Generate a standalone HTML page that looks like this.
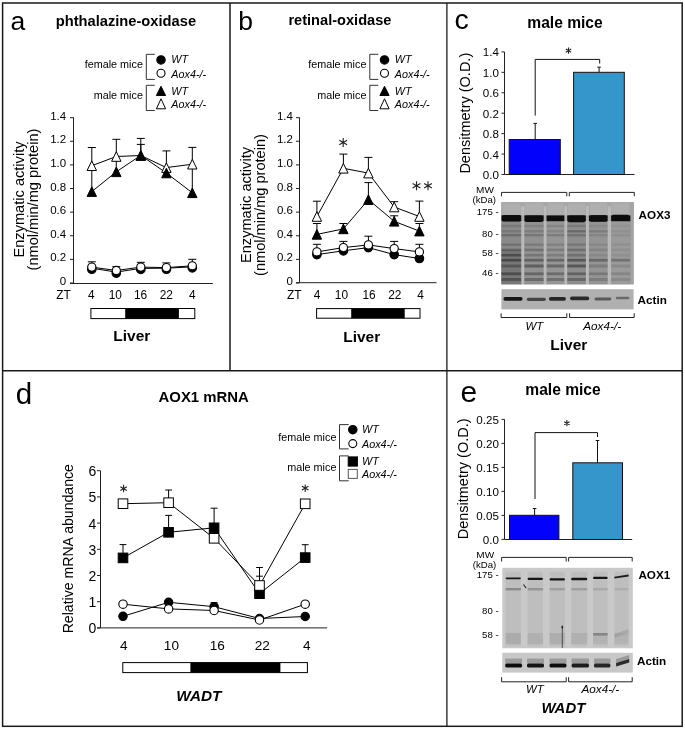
<!DOCTYPE html>
<html><head><meta charset="utf-8"><style>
html,body{margin:0;padding:0;background:#fff;}
svg{display:block;will-change:transform;font-family:"Liberation Sans", sans-serif;}
</style></head><body>
<svg width="685" height="729" viewBox="0 0 685 729">
<defs><filter id="gblur" x="-5%" y="-5%" width="110%" height="110%"><feGaussianBlur stdDeviation="0.75"/></filter></defs>
<rect width="685" height="729" fill="#fff"/>
<rect x="2.6" y="3" width="679.6" height="723.3" fill="none" stroke="#1a1a1a" stroke-width="1.5"/>
<line x1="230" y1="3" x2="230" y2="370.5" stroke="#1a1a1a" stroke-width="1.5"/>
<line x1="446.9" y1="3" x2="446.9" y2="726.3" stroke="#1a1a1a" stroke-width="1.3"/>
<line x1="2.6" y1="370.7" x2="682.2" y2="370.7" stroke="#1a1a1a" stroke-width="1.5"/>
<text x="10.6" y="30.3" font-size="26.5" text-anchor="start" fill="#000" >a</text>
<text x="55.7" y="25.6" font-size="14.7" font-weight="bold" text-anchor="start" fill="#000" >phthalazine-oxidase</text>
<text x="142.9" y="68.4" font-size="10.8" text-anchor="end" fill="#000" >female mice</text>
<text x="142.9" y="98.8" font-size="10.8" text-anchor="end" fill="#000" >male mice</text>
<path d="M154.8,54.3 H146.3 V79.4 H154.8" stroke="#333" stroke-width="1" fill="none" />
<path d="M154.8,85.3 H146.3 V110.5 H154.8" stroke="#333" stroke-width="1" fill="none" />
<circle cx="161" cy="59.9" r="4.2" stroke="#000" stroke-width="1.1" fill="#000"/>
<circle cx="161" cy="73.3" r="4.0" stroke="#000" stroke-width="1.1" fill="#fff"/>
<path d="M161,86.30000000000001 L165.6,95.5 L156.4,95.5 Z" stroke="#000" stroke-width="1" fill="#000" stroke-linejoin="miter"/>
<path d="M161,98.8 L165.6,108.8 L156.4,108.8 Z" stroke="#000" stroke-width="1" fill="#fff" stroke-linejoin="miter"/>
<text x="171.3" y="63.3" font-size="10.8" font-style="italic" text-anchor="start" fill="#000" >WT</text>
<text x="171.3" y="77.6" font-size="10.8" font-style="italic" text-anchor="start" fill="#000" >Aox4-/-</text>
<text x="171.3" y="94.8" font-size="10.8" font-style="italic" text-anchor="start" fill="#000" >WT</text>
<text x="171.3" y="108.2" font-size="10.8" font-style="italic" text-anchor="start" fill="#000" >Aox4-/-</text>
<line x1="73.5" y1="117.4" x2="73.5" y2="283.5" stroke="#222" stroke-width="1"/>
<line x1="70.0" y1="283.5" x2="212.8" y2="283.5" stroke="#222" stroke-width="1"/>
<line x1="70.0" y1="283.0" x2="73.5" y2="283.0" stroke="#222" stroke-width="1"/>
<text x="66.2" y="285.1" font-size="11.5" text-anchor="end" fill="#000" >0</text>
<line x1="70.0" y1="259.38" x2="73.5" y2="259.38" stroke="#222" stroke-width="1"/>
<text x="66.2" y="261.48" font-size="11.5" text-anchor="end" fill="#000" >0.2</text>
<line x1="70.0" y1="235.76" x2="73.5" y2="235.76" stroke="#222" stroke-width="1"/>
<text x="66.2" y="237.85999999999999" font-size="11.5" text-anchor="end" fill="#000" >0.4</text>
<line x1="70.0" y1="212.14" x2="73.5" y2="212.14" stroke="#222" stroke-width="1"/>
<text x="66.2" y="214.23999999999998" font-size="11.5" text-anchor="end" fill="#000" >0.6</text>
<line x1="70.0" y1="188.51999999999998" x2="73.5" y2="188.51999999999998" stroke="#222" stroke-width="1"/>
<text x="66.2" y="190.61999999999998" font-size="11.5" text-anchor="end" fill="#000" >0.8</text>
<line x1="70.0" y1="164.89999999999998" x2="73.5" y2="164.89999999999998" stroke="#222" stroke-width="1"/>
<text x="66.2" y="166.99999999999997" font-size="11.5" text-anchor="end" fill="#000" >1.0</text>
<line x1="70.0" y1="141.28" x2="73.5" y2="141.28" stroke="#222" stroke-width="1"/>
<text x="66.2" y="143.38" font-size="11.5" text-anchor="end" fill="#000" >1.2</text>
<line x1="70.0" y1="117.66" x2="73.5" y2="117.66" stroke="#222" stroke-width="1"/>
<text x="66.2" y="119.75999999999999" font-size="11.5" text-anchor="end" fill="#000" >1.4</text>
<text x="56.3" y="299.0" font-size="11.9" text-anchor="start" fill="#000" >ZT</text>
<text x="91.3" y="299.0" font-size="11.9" text-anchor="middle" fill="#000" >4</text>
<text x="115.3" y="299.0" font-size="11.9" text-anchor="middle" fill="#000" >10</text>
<text x="140.6" y="299.0" font-size="11.9" text-anchor="middle" fill="#000" >16</text>
<text x="166.3" y="299.0" font-size="11.9" text-anchor="middle" fill="#000" >22</text>
<text x="192.3" y="299.0" font-size="11.9" text-anchor="middle" fill="#000" >4</text>
<rect x="90.9" y="308.5" width="103.9" height="10.100000000000023" fill="#fff" stroke="#000" stroke-width="1"/>
<rect x="125.2" y="308.5" width="53.7" height="10.100000000000023" fill="#000"/>
<text x="113.3" y="340.5" font-size="15.5" font-weight="bold" text-anchor="start" fill="#000" >Liver</text>
<text transform="translate(24.3,199.5) rotate(-90)" x="0" y="0" font-size="14.6" text-anchor="middle">Enzymatic activity</text>
<text transform="translate(38.0,199.5) rotate(-90)" x="0" y="0" font-size="14.6" text-anchor="middle">(nmol/min/mg protein)</text>
<line x1="91.8" y1="261.8" x2="91.8" y2="267.1" stroke="#000" stroke-width="1"/>
<line x1="87.8" y1="261.8" x2="95.8" y2="261.8" stroke="#000" stroke-width="1"/>
<line x1="116.3" y1="266.7" x2="116.3" y2="270.5" stroke="#000" stroke-width="1"/>
<line x1="112.3" y1="266.7" x2="120.3" y2="266.7" stroke="#000" stroke-width="1"/>
<line x1="140.8" y1="262.3" x2="140.8" y2="267.1" stroke="#000" stroke-width="1"/>
<line x1="136.8" y1="262.3" x2="144.8" y2="262.3" stroke="#000" stroke-width="1"/>
<line x1="166.4" y1="262.9" x2="166.4" y2="267.6" stroke="#000" stroke-width="1"/>
<line x1="162.4" y1="262.9" x2="170.4" y2="262.9" stroke="#000" stroke-width="1"/>
<line x1="192.3" y1="259.3" x2="192.3" y2="265.8" stroke="#000" stroke-width="1"/>
<line x1="188.3" y1="259.3" x2="196.3" y2="259.3" stroke="#000" stroke-width="1"/>
<path d="M91.8,268.2 L116.3,272.1 L140.8,268.4 L166.4,268.2 L192.3,266.8" stroke="#000" stroke-width="1" fill="none" />
<path d="M91.8,267.1 L116.3,270.5 L140.8,267.1 L166.4,267.6 L192.3,265.8" stroke="#000" stroke-width="1" fill="none" />
<circle cx="91.8" cy="269.2" r="4.3" stroke="#000" stroke-width="1.1" fill="#000"/>
<circle cx="116.3" cy="273.1" r="4.3" stroke="#000" stroke-width="1.1" fill="#000"/>
<circle cx="140.8" cy="269.4" r="4.3" stroke="#000" stroke-width="1.1" fill="#000"/>
<circle cx="166.4" cy="269.2" r="4.3" stroke="#000" stroke-width="1.1" fill="#000"/>
<circle cx="192.3" cy="267.8" r="4.3" stroke="#000" stroke-width="1.1" fill="#000"/>
<circle cx="91.8" cy="267.1" r="4.1" stroke="#000" stroke-width="1.1" fill="#fff"/>
<circle cx="116.3" cy="270.5" r="4.1" stroke="#000" stroke-width="1.1" fill="#fff"/>
<circle cx="140.8" cy="267.1" r="4.1" stroke="#000" stroke-width="1.1" fill="#fff"/>
<circle cx="166.4" cy="267.6" r="4.1" stroke="#000" stroke-width="1.1" fill="#fff"/>
<circle cx="192.3" cy="265.8" r="4.1" stroke="#000" stroke-width="1.1" fill="#fff"/>
<line x1="91.8" y1="147.5" x2="91.8" y2="192" stroke="#000" stroke-width="1"/>
<line x1="87.8" y1="147.5" x2="95.8" y2="147.5" stroke="#000" stroke-width="1"/>
<line x1="116.3" y1="139.3" x2="116.3" y2="172" stroke="#000" stroke-width="1"/>
<line x1="112.3" y1="139.3" x2="120.3" y2="139.3" stroke="#000" stroke-width="1"/>
<line x1="140.8" y1="138.4" x2="140.8" y2="156" stroke="#000" stroke-width="1"/>
<line x1="136.8" y1="138.4" x2="144.8" y2="138.4" stroke="#000" stroke-width="1"/>
<line x1="140.8" y1="144.4" x2="140.8" y2="156" stroke="#000" stroke-width="1"/>
<line x1="136.8" y1="144.4" x2="144.8" y2="144.4" stroke="#000" stroke-width="1"/>
<line x1="166.4" y1="150.9" x2="166.4" y2="173" stroke="#000" stroke-width="1"/>
<line x1="162.4" y1="150.9" x2="170.4" y2="150.9" stroke="#000" stroke-width="1"/>
<line x1="192.3" y1="147.4" x2="192.3" y2="193" stroke="#000" stroke-width="1"/>
<line x1="188.3" y1="147.4" x2="196.3" y2="147.4" stroke="#000" stroke-width="1"/>
<path d="M91.8,191.6 L116.3,171.8 L140.8,155.4 L166.4,173.0 L192.3,192.8" stroke="#000" stroke-width="1" fill="none" />
<path d="M91.8,165.7 L116.3,156.5 L140.8,155.5 L166.4,167.6 L192.3,164.2" stroke="#000" stroke-width="1" fill="none" />
<path d="M91.8,160.89999999999998 L96.5,170.5 L87.1,170.5 Z" stroke="#000" stroke-width="1" fill="#fff" stroke-linejoin="miter"/>
<path d="M116.3,151.7 L121.0,161.3 L111.6,161.3 Z" stroke="#000" stroke-width="1" fill="#fff" stroke-linejoin="miter"/>
<path d="M140.8,150.7 L145.5,160.3 L136.10000000000002,160.3 Z" stroke="#000" stroke-width="1" fill="#fff" stroke-linejoin="miter"/>
<path d="M166.4,162.79999999999998 L171.1,172.4 L161.70000000000002,172.4 Z" stroke="#000" stroke-width="1" fill="#fff" stroke-linejoin="miter"/>
<path d="M192.3,159.39999999999998 L197.0,169.0 L187.60000000000002,169.0 Z" stroke="#000" stroke-width="1" fill="#fff" stroke-linejoin="miter"/>
<path d="M91.8,186.79999999999998 L96.5,196.4 L87.1,196.4 Z" stroke="#000" stroke-width="1" fill="#000" stroke-linejoin="miter"/>
<path d="M116.3,167.0 L121.0,176.60000000000002 L111.6,176.60000000000002 Z" stroke="#000" stroke-width="1" fill="#000" stroke-linejoin="miter"/>
<path d="M140.8,150.6 L145.5,160.20000000000002 L136.10000000000002,160.20000000000002 Z" stroke="#000" stroke-width="1" fill="#000" stroke-linejoin="miter"/>
<path d="M166.4,168.2 L171.1,177.8 L161.70000000000002,177.8 Z" stroke="#000" stroke-width="1" fill="#000" stroke-linejoin="miter"/>
<path d="M192.3,188.0 L197.0,197.60000000000002 L187.60000000000002,197.60000000000002 Z" stroke="#000" stroke-width="1" fill="#000" stroke-linejoin="miter"/>
<text x="238.3" y="29.5" font-size="26.5" text-anchor="start" fill="#000" >b</text>
<text x="288.4" y="25.4" font-size="14.6" font-weight="bold" text-anchor="start" fill="#000" >retinal-oxidase</text>
<text x="366.4" y="68.4" font-size="10.8" text-anchor="end" fill="#000" >female mice</text>
<text x="366.4" y="98.8" font-size="10.8" text-anchor="end" fill="#000" >male mice</text>
<path d="M378.3,54.3 H369.8 V79.4 H378.3" stroke="#333" stroke-width="1" fill="none" />
<path d="M378.3,85.3 H369.8 V110.5 H378.3" stroke="#333" stroke-width="1" fill="none" />
<circle cx="384.5" cy="59.9" r="4.2" stroke="#000" stroke-width="1.1" fill="#000"/>
<circle cx="384.5" cy="73.3" r="4.0" stroke="#000" stroke-width="1.1" fill="#fff"/>
<path d="M384.5,86.30000000000001 L389.1,95.5 L379.9,95.5 Z" stroke="#000" stroke-width="1" fill="#000" stroke-linejoin="miter"/>
<path d="M384.5,98.8 L389.1,108.8 L379.9,108.8 Z" stroke="#000" stroke-width="1" fill="#fff" stroke-linejoin="miter"/>
<text x="394.8" y="63.3" font-size="10.8" font-style="italic" text-anchor="start" fill="#000" >WT</text>
<text x="394.8" y="77.6" font-size="10.8" font-style="italic" text-anchor="start" fill="#000" >Aox4-/-</text>
<text x="394.8" y="94.8" font-size="10.8" font-style="italic" text-anchor="start" fill="#000" >WT</text>
<text x="394.8" y="108.2" font-size="10.8" font-style="italic" text-anchor="start" fill="#000" >Aox4-/-</text>
<line x1="299.5" y1="117.4" x2="299.5" y2="282.7" stroke="#222" stroke-width="1"/>
<line x1="296.0" y1="282.7" x2="436.5" y2="282.7" stroke="#222" stroke-width="1"/>
<line x1="296.0" y1="283.0" x2="299.5" y2="283.0" stroke="#222" stroke-width="1"/>
<text x="292.9" y="285.1" font-size="11.5" text-anchor="end" fill="#000" >0</text>
<line x1="296.0" y1="259.38" x2="299.5" y2="259.38" stroke="#222" stroke-width="1"/>
<text x="292.9" y="261.48" font-size="11.5" text-anchor="end" fill="#000" >0.2</text>
<line x1="296.0" y1="235.76" x2="299.5" y2="235.76" stroke="#222" stroke-width="1"/>
<text x="292.9" y="237.85999999999999" font-size="11.5" text-anchor="end" fill="#000" >0.4</text>
<line x1="296.0" y1="212.14" x2="299.5" y2="212.14" stroke="#222" stroke-width="1"/>
<text x="292.9" y="214.23999999999998" font-size="11.5" text-anchor="end" fill="#000" >0.6</text>
<line x1="296.0" y1="188.51999999999998" x2="299.5" y2="188.51999999999998" stroke="#222" stroke-width="1"/>
<text x="292.9" y="190.61999999999998" font-size="11.5" text-anchor="end" fill="#000" >0.8</text>
<line x1="296.0" y1="164.89999999999998" x2="299.5" y2="164.89999999999998" stroke="#222" stroke-width="1"/>
<text x="292.9" y="166.99999999999997" font-size="11.5" text-anchor="end" fill="#000" >1.0</text>
<line x1="296.0" y1="141.28" x2="299.5" y2="141.28" stroke="#222" stroke-width="1"/>
<text x="292.9" y="143.38" font-size="11.5" text-anchor="end" fill="#000" >1.2</text>
<line x1="296.0" y1="117.66" x2="299.5" y2="117.66" stroke="#222" stroke-width="1"/>
<text x="292.9" y="119.75999999999999" font-size="11.5" text-anchor="end" fill="#000" >1.4</text>
<text x="287.0" y="299.0" font-size="11.9" text-anchor="start" fill="#000" >ZT</text>
<text x="317.0" y="299.0" font-size="11.9" text-anchor="middle" fill="#000" >4</text>
<text x="341.4" y="299.0" font-size="11.9" text-anchor="middle" fill="#000" >10</text>
<text x="369.1" y="299.0" font-size="11.9" text-anchor="middle" fill="#000" >16</text>
<text x="394.8" y="299.0" font-size="11.9" text-anchor="middle" fill="#000" >22</text>
<text x="420.5" y="299.0" font-size="11.9" text-anchor="middle" fill="#000" >4</text>
<rect x="316.6" y="308.6" width="103.39999999999998" height="9.599999999999966" fill="#fff" stroke="#000" stroke-width="1"/>
<rect x="351.2" y="308.6" width="53.5" height="9.599999999999966" fill="#000"/>
<text x="343.2" y="341.6" font-size="15.5" font-weight="bold" text-anchor="start" fill="#000" >Liver</text>
<text transform="translate(251.3,205.0) rotate(-90)" x="0" y="0" font-size="14.6" text-anchor="middle">Enzymatic activity</text>
<text transform="translate(265.0,205.0) rotate(-90)" x="0" y="0" font-size="14.6" text-anchor="middle">(nmol/min/mg protein)</text>
<line x1="316.9" y1="244.3" x2="316.9" y2="251.9" stroke="#000" stroke-width="1"/>
<line x1="312.9" y1="244.3" x2="320.9" y2="244.3" stroke="#000" stroke-width="1"/>
<line x1="343.4" y1="241.4" x2="343.4" y2="247.6" stroke="#000" stroke-width="1"/>
<line x1="339.4" y1="241.4" x2="347.4" y2="241.4" stroke="#000" stroke-width="1"/>
<line x1="368.4" y1="236.2" x2="368.4" y2="244.9" stroke="#000" stroke-width="1"/>
<line x1="364.4" y1="236.2" x2="372.4" y2="236.2" stroke="#000" stroke-width="1"/>
<line x1="394.2" y1="241.4" x2="394.2" y2="248.6" stroke="#000" stroke-width="1"/>
<line x1="390.2" y1="241.4" x2="398.2" y2="241.4" stroke="#000" stroke-width="1"/>
<line x1="419.4" y1="244.3" x2="419.4" y2="251.9" stroke="#000" stroke-width="1"/>
<line x1="415.4" y1="244.3" x2="423.4" y2="244.3" stroke="#000" stroke-width="1"/>
<line x1="316.9" y1="201.2" x2="316.9" y2="216.5" stroke="#000" stroke-width="1"/>
<line x1="312.9" y1="201.2" x2="320.9" y2="201.2" stroke="#000" stroke-width="1"/>
<line x1="343.4" y1="154.1" x2="343.4" y2="168.3" stroke="#000" stroke-width="1"/>
<line x1="339.4" y1="154.1" x2="347.4" y2="154.1" stroke="#000" stroke-width="1"/>
<line x1="368.4" y1="157.4" x2="368.4" y2="173.1" stroke="#000" stroke-width="1"/>
<line x1="364.4" y1="157.4" x2="372.4" y2="157.4" stroke="#000" stroke-width="1"/>
<line x1="394.2" y1="201.7" x2="394.2" y2="207.0" stroke="#000" stroke-width="1"/>
<line x1="390.2" y1="201.7" x2="398.2" y2="201.7" stroke="#000" stroke-width="1"/>
<line x1="419.4" y1="201.1" x2="419.4" y2="216.5" stroke="#000" stroke-width="1"/>
<line x1="415.4" y1="201.1" x2="423.4" y2="201.1" stroke="#000" stroke-width="1"/>
<line x1="316.9" y1="223.5" x2="316.9" y2="234.4" stroke="#000" stroke-width="1"/>
<line x1="312.9" y1="223.5" x2="320.9" y2="223.5" stroke="#000" stroke-width="1"/>
<line x1="343.4" y1="223.5" x2="343.4" y2="228.9" stroke="#000" stroke-width="1"/>
<line x1="339.4" y1="223.5" x2="347.4" y2="223.5" stroke="#000" stroke-width="1"/>
<line x1="368.4" y1="182.6" x2="368.4" y2="199.6" stroke="#000" stroke-width="1"/>
<line x1="364.4" y1="182.6" x2="372.4" y2="182.6" stroke="#000" stroke-width="1"/>
<line x1="394.2" y1="215.8" x2="394.2" y2="221.3" stroke="#000" stroke-width="1"/>
<line x1="390.2" y1="215.8" x2="398.2" y2="215.8" stroke="#000" stroke-width="1"/>
<line x1="419.4" y1="223.5" x2="419.4" y2="231.1" stroke="#000" stroke-width="1"/>
<line x1="415.4" y1="223.5" x2="423.4" y2="223.5" stroke="#000" stroke-width="1"/>
<path d="M316.9,254.6 L343.4,250.8 L368.4,247.6 L394.2,254.6 L419.4,258.5" stroke="#000" stroke-width="1" fill="none" />
<path d="M316.9,251.9 L343.4,247.6 L368.4,244.9 L394.2,248.6 L419.4,251.9" stroke="#000" stroke-width="1" fill="none" />
<path d="M316.9,234.4 L343.4,228.9 L368.4,199.6 L394.2,221.3 L419.4,231.1" stroke="#000" stroke-width="1" fill="none" />
<path d="M316.9,216.5 L343.4,168.3 L368.4,173.1 L394.2,207.0 L419.4,216.5" stroke="#000" stroke-width="1" fill="none" />
<circle cx="316.9" cy="254.6" r="4.3" stroke="#000" stroke-width="1.1" fill="#000"/>
<circle cx="343.4" cy="250.8" r="4.3" stroke="#000" stroke-width="1.1" fill="#000"/>
<circle cx="368.4" cy="247.6" r="4.3" stroke="#000" stroke-width="1.1" fill="#000"/>
<circle cx="394.2" cy="254.6" r="4.3" stroke="#000" stroke-width="1.1" fill="#000"/>
<circle cx="419.4" cy="258.5" r="4.3" stroke="#000" stroke-width="1.1" fill="#000"/>
<circle cx="316.9" cy="251.9" r="4.1" stroke="#000" stroke-width="1.1" fill="#fff"/>
<circle cx="343.4" cy="247.6" r="4.1" stroke="#000" stroke-width="1.1" fill="#fff"/>
<circle cx="368.4" cy="244.9" r="4.1" stroke="#000" stroke-width="1.1" fill="#fff"/>
<circle cx="394.2" cy="248.6" r="4.1" stroke="#000" stroke-width="1.1" fill="#fff"/>
<circle cx="419.4" cy="251.9" r="4.1" stroke="#000" stroke-width="1.1" fill="#fff"/>
<path d="M316.9,229.6 L321.59999999999997,239.20000000000002 L312.2,239.20000000000002 Z" stroke="#000" stroke-width="1" fill="#000" stroke-linejoin="miter"/>
<path d="M343.4,224.1 L348.09999999999997,233.70000000000002 L338.7,233.70000000000002 Z" stroke="#000" stroke-width="1" fill="#000" stroke-linejoin="miter"/>
<path d="M368.4,194.79999999999998 L373.09999999999997,204.4 L363.7,204.4 Z" stroke="#000" stroke-width="1" fill="#000" stroke-linejoin="miter"/>
<path d="M394.2,216.5 L398.9,226.10000000000002 L389.5,226.10000000000002 Z" stroke="#000" stroke-width="1" fill="#000" stroke-linejoin="miter"/>
<path d="M419.4,226.29999999999998 L424.09999999999997,235.9 L414.7,235.9 Z" stroke="#000" stroke-width="1" fill="#000" stroke-linejoin="miter"/>
<path d="M316.9,211.7 L321.59999999999997,221.3 L312.2,221.3 Z" stroke="#000" stroke-width="1" fill="#fff" stroke-linejoin="miter"/>
<path d="M343.4,163.5 L348.09999999999997,173.10000000000002 L338.7,173.10000000000002 Z" stroke="#000" stroke-width="1" fill="#fff" stroke-linejoin="miter"/>
<path d="M368.4,168.29999999999998 L373.09999999999997,177.9 L363.7,177.9 Z" stroke="#000" stroke-width="1" fill="#fff" stroke-linejoin="miter"/>
<path d="M394.2,202.2 L398.9,211.8 L389.5,211.8 Z" stroke="#000" stroke-width="1" fill="#fff" stroke-linejoin="miter"/>
<path d="M419.4,211.7 L424.09999999999997,221.3 L414.7,221.3 Z" stroke="#000" stroke-width="1" fill="#fff" stroke-linejoin="miter"/>
<path d="M343.20,138.00 L343.20,147.00 M347.10,140.25 L339.30,144.75 M347.10,144.75 L339.30,140.25 " stroke="#222" stroke-width="1.1" fill="none" />
<path d="M416.50,181.30 L416.50,190.30 M420.40,183.55 L412.60,188.05 M420.40,188.05 L412.60,183.55 " stroke="#222" stroke-width="1.1" fill="none" />
<path d="M428.00,181.30 L428.00,190.30 M431.90,183.55 L424.10,188.05 M431.90,188.05 L424.10,183.55 " stroke="#222" stroke-width="1.1" fill="none" />
<text x="454.6" y="28.8" font-size="28.5" text-anchor="start" fill="#000" >c</text>
<text x="527.3" y="27.8" font-size="15.6" font-weight="bold" text-anchor="start" fill="#000" >male mice</text>
<line x1="504.5" y1="51.9" x2="504.5" y2="174.5" stroke="#222" stroke-width="1"/>
<line x1="504.5" y1="174.5" x2="634.5" y2="174.5" stroke="#222" stroke-width="1"/>
<line x1="501.5" y1="51.9" x2="504.5" y2="51.9" stroke="#222" stroke-width="1"/>
<text x="498.9" y="56.4" font-size="11.6" text-anchor="end" fill="#000" >1.4</text>
<line x1="501.5" y1="72.33" x2="504.5" y2="72.33" stroke="#222" stroke-width="1"/>
<text x="498.9" y="76.83" font-size="11.6" text-anchor="end" fill="#000" >1.0</text>
<line x1="501.5" y1="92.75999999999999" x2="504.5" y2="92.75999999999999" stroke="#222" stroke-width="1"/>
<text x="498.9" y="97.25999999999999" font-size="11.6" text-anchor="end" fill="#000" >0.6</text>
<line x1="501.5" y1="113.19" x2="504.5" y2="113.19" stroke="#222" stroke-width="1"/>
<text x="498.9" y="117.69" font-size="11.6" text-anchor="end" fill="#000" >0.2</text>
<line x1="501.5" y1="133.62" x2="504.5" y2="133.62" stroke="#222" stroke-width="1"/>
<text x="498.9" y="138.12" font-size="11.6" text-anchor="end" fill="#000" >0.8</text>
<line x1="501.5" y1="154.05" x2="504.5" y2="154.05" stroke="#222" stroke-width="1"/>
<text x="498.9" y="158.55" font-size="11.6" text-anchor="end" fill="#000" >0.4</text>
<line x1="501.5" y1="174.48" x2="504.5" y2="174.48" stroke="#222" stroke-width="1"/>
<text x="498.9" y="178.98" font-size="11.6" text-anchor="end" fill="#000" >0.0</text>
<rect x="509.2" y="139.5" width="51.099999999999966" height="35.0" fill="#0202fc" stroke="#111" stroke-width="1"/>
<rect x="573.6" y="72.3" width="50.69999999999993" height="102.2" fill="#3596cc" stroke="#111" stroke-width="1"/>
<line x1="535.2" y1="123.4" x2="535.2" y2="139.5" stroke="#111" stroke-width="1"/>
<line x1="533.4000000000001" y1="123.4" x2="537.0" y2="123.4" stroke="#111" stroke-width="1"/>
<line x1="599.1" y1="67.2" x2="599.1" y2="72.3" stroke="#111" stroke-width="1"/>
<line x1="597.3000000000001" y1="67.2" x2="600.9" y2="67.2" stroke="#111" stroke-width="1"/>
<path d="M535.2,115.6 V59.4 H599.7 V63.5" stroke="#111" stroke-width="1" fill="none" />
<path d="M568.50,47.50 L568.50,53.70 M571.18,49.05 L565.82,52.15 M571.18,52.15 L565.82,49.05 " stroke="#222" stroke-width="1.1" fill="none" />
<text transform="translate(470.0,113.2) rotate(-90)" x="0" y="0" font-size="14.5" text-anchor="middle">Densitmetry (O.D.)</text>
<text x="460.5" y="401.8" font-size="30" text-anchor="start" fill="#000" >e</text>
<text x="525.3" y="395.0" font-size="15.6" font-weight="bold" text-anchor="start" fill="#000" >male mice</text>
<line x1="504.5" y1="419.4" x2="504.5" y2="539.5" stroke="#222" stroke-width="1"/>
<line x1="504.5" y1="539.5" x2="632.2" y2="539.5" stroke="#222" stroke-width="1"/>
<line x1="501.5" y1="419.4" x2="504.5" y2="419.4" stroke="#222" stroke-width="1"/>
<text x="498.9" y="423.9" font-size="11.6" text-anchor="end" fill="#000" >0.25</text>
<line x1="501.5" y1="443.4" x2="504.5" y2="443.4" stroke="#222" stroke-width="1"/>
<text x="498.9" y="447.9" font-size="11.6" text-anchor="end" fill="#000" >0.20</text>
<line x1="501.5" y1="467.4" x2="504.5" y2="467.4" stroke="#222" stroke-width="1"/>
<text x="498.9" y="471.9" font-size="11.6" text-anchor="end" fill="#000" >0.15</text>
<line x1="501.5" y1="491.4" x2="504.5" y2="491.4" stroke="#222" stroke-width="1"/>
<text x="498.9" y="495.9" font-size="11.6" text-anchor="end" fill="#000" >0.10</text>
<line x1="501.5" y1="515.4" x2="504.5" y2="515.4" stroke="#222" stroke-width="1"/>
<text x="498.9" y="519.9" font-size="11.6" text-anchor="end" fill="#000" >0.05</text>
<line x1="501.5" y1="539.4" x2="504.5" y2="539.4" stroke="#222" stroke-width="1"/>
<text x="498.9" y="543.9" font-size="11.6" text-anchor="end" fill="#000" >0.0</text>
<rect x="509.5" y="515.3" width="49.39999999999998" height="24.200000000000045" fill="#0202fc" stroke="#111" stroke-width="1"/>
<rect x="572.8" y="462.8" width="49.700000000000045" height="76.69999999999999" fill="#3596cc" stroke="#111" stroke-width="1"/>
<line x1="534.6" y1="508.5" x2="534.6" y2="515.3" stroke="#111" stroke-width="1"/>
<line x1="532.8000000000001" y1="508.5" x2="536.4" y2="508.5" stroke="#111" stroke-width="1"/>
<line x1="597.5" y1="440.5" x2="597.5" y2="462.8" stroke="#111" stroke-width="1"/>
<line x1="595.7" y1="440.5" x2="599.3" y2="440.5" stroke="#111" stroke-width="1"/>
<path d="M535.0,499.0 V432.6 H597.5 V437.0" stroke="#111" stroke-width="1" fill="none" />
<path d="M566.90,420.10 L566.90,426.30 M569.58,421.65 L564.22,424.75 M569.58,424.75 L564.22,421.65 " stroke="#222" stroke-width="1.1" fill="none" />
<text transform="translate(468.0,478.9) rotate(-90)" x="0" y="0" font-size="14.5" text-anchor="middle">Densitmetry (O.D.)</text>
<text x="476.1" y="192.6" font-size="9.2" text-anchor="start" fill="#000" textLength="17.8" lengthAdjust="spacingAndGlyphs">MW</text>
<text x="484.3" y="202.6" font-size="9.6" text-anchor="middle" fill="#000" >(kDa)</text>
<path d="M501.5,196.3 V192.4 H566.8 V196.3" stroke="#222" stroke-width="1" fill="none" />
<path d="M569.3,196.3 V192.4 H634.3 V196.3" stroke="#222" stroke-width="1" fill="none" />
<g filter="url(#gblur)">
<rect x="501.4" y="202.3" width="132.20000000000005" height="82.0" fill="#929292"/>
<rect x="501.4" y="202.3" width="132.20000000000005" height="13.5" fill="#a7a7a7"/>
<rect x="501.4" y="222" width="20.200000000000045" height="62.30000000000001" fill="#8a8a8a"/>
<rect x="502.4" y="203.3" width="18.200000000000045" height="11.5" fill="#afafaf"/>
<rect x="524.0" y="222" width="19.799999999999955" height="62.30000000000001" fill="#919191"/>
<rect x="525.0" y="203.3" width="17.799999999999955" height="11.5" fill="#afafaf"/>
<rect x="546.4" y="222" width="18.200000000000045" height="62.30000000000001" fill="#959595"/>
<rect x="547.4" y="203.3" width="16.200000000000045" height="11.5" fill="#afafaf"/>
<rect x="567.0" y="222" width="19.0" height="62.30000000000001" fill="#8d8d8d"/>
<rect x="568.0" y="203.3" width="17.0" height="11.5" fill="#afafaf"/>
<rect x="588.8" y="222" width="19.200000000000045" height="62.30000000000001" fill="#949494"/>
<rect x="589.8" y="203.3" width="17.200000000000045" height="11.5" fill="#afafaf"/>
<rect x="610.8" y="222" width="19.40000000000009" height="62.30000000000001" fill="#9a9a9a"/>
<rect x="611.8" y="203.3" width="17.40000000000009" height="11.5" fill="#afafaf"/>
<rect x="501.4" y="224.8" width="20.200000000000045" height="2.4" fill="#2a2a2a" opacity="0.19"/>
<rect x="524.0" y="224.8" width="19.799999999999955" height="2.4" fill="#2a2a2a" opacity="0.15"/>
<rect x="546.4" y="224.8" width="18.200000000000045" height="2.4" fill="#2a2a2a" opacity="0.15"/>
<rect x="567.0" y="224.8" width="19.0" height="2.4" fill="#2a2a2a" opacity="0.19"/>
<rect x="588.8" y="224.8" width="19.200000000000045" height="2.4" fill="#2a2a2a" opacity="0.09"/>
<rect x="610.8" y="224.8" width="19.40000000000009" height="2.4" fill="#2a2a2a" opacity="0.06"/>
<rect x="501.4" y="230.10000000000002" width="20.200000000000045" height="2.4" fill="#2a2a2a" opacity="0.19"/>
<rect x="524.0" y="230.10000000000002" width="19.799999999999955" height="2.4" fill="#2a2a2a" opacity="0.19"/>
<rect x="546.4" y="230.10000000000002" width="18.200000000000045" height="2.4" fill="#2a2a2a" opacity="0.15"/>
<rect x="567.0" y="230.10000000000002" width="19.0" height="2.4" fill="#2a2a2a" opacity="0.34"/>
<rect x="588.8" y="230.10000000000002" width="19.200000000000045" height="2.4" fill="#2a2a2a" opacity="0.22"/>
<rect x="610.8" y="230.10000000000002" width="19.40000000000009" height="2.4" fill="#2a2a2a" opacity="0.09"/>
<rect x="501.4" y="234.0" width="20.200000000000045" height="2.4" fill="#2a2a2a" opacity="0.30"/>
<rect x="524.0" y="234.0" width="19.799999999999955" height="2.4" fill="#2a2a2a" opacity="0.26"/>
<rect x="546.4" y="234.0" width="18.200000000000045" height="2.4" fill="#2a2a2a" opacity="0.22"/>
<rect x="567.0" y="234.0" width="19.0" height="2.4" fill="#2a2a2a" opacity="0.26"/>
<rect x="588.8" y="234.0" width="19.200000000000045" height="2.4" fill="#2a2a2a" opacity="0.15"/>
<rect x="610.8" y="234.0" width="19.40000000000009" height="2.4" fill="#2a2a2a" opacity="0.09"/>
<rect x="501.4" y="243.5" width="20.200000000000045" height="2.4" fill="#2a2a2a" opacity="0.26"/>
<rect x="524.0" y="243.5" width="19.799999999999955" height="2.4" fill="#2a2a2a" opacity="0.22"/>
<rect x="546.4" y="243.5" width="18.200000000000045" height="2.4" fill="#2a2a2a" opacity="0.19"/>
<rect x="567.0" y="243.5" width="19.0" height="2.4" fill="#2a2a2a" opacity="0.22"/>
<rect x="588.8" y="243.5" width="19.200000000000045" height="2.4" fill="#2a2a2a" opacity="0.11"/>
<rect x="610.8" y="243.5" width="19.40000000000009" height="2.4" fill="#2a2a2a" opacity="0.08"/>
<rect x="501.4" y="248.6" width="20.200000000000045" height="2.6" fill="#2a2a2a" opacity="0.34"/>
<rect x="524.0" y="248.6" width="19.799999999999955" height="2.6" fill="#2a2a2a" opacity="0.30"/>
<rect x="546.4" y="248.6" width="18.200000000000045" height="2.6" fill="#2a2a2a" opacity="0.22"/>
<rect x="567.0" y="248.6" width="19.0" height="2.6" fill="#2a2a2a" opacity="0.30"/>
<rect x="588.8" y="248.6" width="19.200000000000045" height="2.6" fill="#2a2a2a" opacity="0.15"/>
<rect x="610.8" y="248.6" width="19.40000000000009" height="2.6" fill="#2a2a2a" opacity="0.09"/>
<rect x="501.4" y="253.89999999999998" width="20.200000000000045" height="2.6" fill="#2a2a2a" opacity="0.52"/>
<rect x="524.0" y="253.89999999999998" width="19.799999999999955" height="2.6" fill="#2a2a2a" opacity="0.26"/>
<rect x="546.4" y="253.89999999999998" width="18.200000000000045" height="2.6" fill="#2a2a2a" opacity="0.22"/>
<rect x="567.0" y="253.89999999999998" width="19.0" height="2.6" fill="#2a2a2a" opacity="0.30"/>
<rect x="588.8" y="253.89999999999998" width="19.200000000000045" height="2.6" fill="#2a2a2a" opacity="0.11"/>
<rect x="610.8" y="253.89999999999998" width="19.40000000000009" height="2.6" fill="#2a2a2a" opacity="0.08"/>
<rect x="501.4" y="258.8" width="20.200000000000045" height="2.8" fill="#2a2a2a" opacity="0.56"/>
<rect x="524.0" y="258.8" width="19.799999999999955" height="2.8" fill="#2a2a2a" opacity="0.45"/>
<rect x="546.4" y="258.8" width="18.200000000000045" height="2.8" fill="#2a2a2a" opacity="0.41"/>
<rect x="567.0" y="258.8" width="19.0" height="2.8" fill="#2a2a2a" opacity="0.52"/>
<rect x="588.8" y="258.8" width="19.200000000000045" height="2.8" fill="#2a2a2a" opacity="0.41"/>
<rect x="610.8" y="258.8" width="19.40000000000009" height="2.8" fill="#2a2a2a" opacity="0.34"/>
<rect x="501.4" y="264.5" width="20.200000000000045" height="3.0" fill="#2a2a2a" opacity="0.38"/>
<rect x="524.0" y="264.5" width="19.799999999999955" height="3.0" fill="#2a2a2a" opacity="0.49"/>
<rect x="546.4" y="264.5" width="18.200000000000045" height="3.0" fill="#2a2a2a" opacity="0.41"/>
<rect x="567.0" y="264.5" width="19.0" height="3.0" fill="#2a2a2a" opacity="0.52"/>
<rect x="588.8" y="264.5" width="19.200000000000045" height="3.0" fill="#2a2a2a" opacity="0.22"/>
<rect x="610.8" y="264.5" width="19.40000000000009" height="3.0" fill="#2a2a2a" opacity="0.15"/>
<rect x="501.4" y="272.40000000000003" width="20.200000000000045" height="2.8" fill="#2a2a2a" opacity="0.52"/>
<rect x="524.0" y="272.40000000000003" width="19.799999999999955" height="2.8" fill="#2a2a2a" opacity="0.41"/>
<rect x="546.4" y="272.40000000000003" width="18.200000000000045" height="2.8" fill="#2a2a2a" opacity="0.38"/>
<rect x="567.0" y="272.40000000000003" width="19.0" height="2.8" fill="#2a2a2a" opacity="0.41"/>
<rect x="588.8" y="272.40000000000003" width="19.200000000000045" height="2.8" fill="#2a2a2a" opacity="0.26"/>
<rect x="610.8" y="272.40000000000003" width="19.40000000000009" height="2.8" fill="#2a2a2a" opacity="0.19"/>
<rect x="501.4" y="278.0" width="20.200000000000045" height="3.0" fill="#2a2a2a" opacity="0.45"/>
<rect x="524.0" y="278.0" width="19.799999999999955" height="3.0" fill="#2a2a2a" opacity="0.38"/>
<rect x="546.4" y="278.0" width="18.200000000000045" height="3.0" fill="#2a2a2a" opacity="0.34"/>
<rect x="567.0" y="278.0" width="19.0" height="3.0" fill="#2a2a2a" opacity="0.38"/>
<rect x="588.8" y="278.0" width="19.200000000000045" height="3.0" fill="#2a2a2a" opacity="0.22"/>
<rect x="610.8" y="278.0" width="19.40000000000009" height="3.0" fill="#2a2a2a" opacity="0.15"/>
<rect x="501.4" y="250" width="20" height="34.30000000000001" fill="#202020" opacity="0.18"/>
<rect x="501.4" y="215.4" width="129.20000000000005" height="5.8" fill="#111"/>
<rect x="502.4" y="215.0" width="18.200000000000045" height="6.5" rx="1.5" fill="#0a0a0a"/>
<rect x="525.0" y="215.4" width="17.799999999999955" height="6.599999999999994" rx="1.5" fill="#0a0a0a"/>
<rect x="547.4" y="216.2" width="16.200000000000045" height="4.600000000000023" rx="1.5" fill="#0a0a0a"/>
<rect x="568.0" y="215.6" width="17.0" height="6.599999999999994" rx="1.5" fill="#0a0a0a"/>
<rect x="589.8" y="215.3" width="17.200000000000045" height="6.5" rx="1.5" fill="#0a0a0a"/>
<rect x="611.8" y="214.8" width="17.40000000000009" height="6.0" rx="1.5" fill="#0a0a0a"/>
<rect x="521.3" y="206.3" width="3.0" height="78.0" fill="#bebebe" opacity="0.9"/>
<rect x="543.7" y="206.3" width="2.8" height="78.0" fill="#bebebe" opacity="0.9"/>
<rect x="564.4" y="206.3" width="2.8" height="78.0" fill="#bebebe" opacity="0.9"/>
<rect x="585.9" y="206.3" width="3.0" height="78.0" fill="#bebebe" opacity="0.9"/>
<rect x="607.6999999999999" y="206.3" width="3.4" height="78.0" fill="#bebebe" opacity="0.9"/>
<rect x="630.6" y="202.3" width="3.0" height="82.0" fill="#a4a4a4"/>
</g>
<g filter="url(#gblur)">
<rect x="501.4" y="289.2" width="132.20000000000005" height="20.19999999999999" fill="#b0b0b0"/>
<rect x="503.5" y="296.90000000000003" width="19.0" height="3.8" rx="1.6" fill="#141414"/>
<rect x="526.8" y="297.7" width="19.0" height="3.2" rx="1.6" fill="#444"/>
<rect x="549" y="297.09999999999997" width="16.899999999999977" height="3.6" rx="1.6" fill="#262626"/>
<rect x="570.1" y="296.40000000000003" width="19.100000000000023" height="3.8" rx="1.6" fill="#2a2a2a"/>
<rect x="594.5" y="297.6" width="16.899999999999977" height="2.8" rx="1.6" fill="#5a5a5a"/>
<rect x="615.7" y="296.7" width="13.699999999999932" height="2.6" rx="1.6" fill="#6a6a6a"/>
</g>
<text x="498.6" y="214.7" font-size="9.6" text-anchor="end" fill="#000" >175 -</text>
<text x="498.6" y="236.6" font-size="9.6" text-anchor="end" fill="#000" >80 -</text>
<text x="498.6" y="256.4" font-size="9.6" text-anchor="end" fill="#000" >58 -</text>
<text x="498.6" y="276.3" font-size="9.6" text-anchor="end" fill="#000" >46 -</text>
<text x="638.6" y="218.6" font-size="11.7" font-weight="bold" text-anchor="start" fill="#000" >AOX3</text>
<text x="637.6" y="304.0" font-size="11.7" font-weight="bold" text-anchor="start" fill="#000" >Actin</text>
<path d="M501.1,313.3 V317.5 H566.8 V313.3" stroke="#222" stroke-width="1" fill="none" />
<path d="M569.6,313.3 V317.5 H634.2 V313.3" stroke="#222" stroke-width="1" fill="none" />
<text x="534.3" y="330.0" font-size="11.4" font-style="italic" text-anchor="middle" fill="#000" >WT</text>
<text x="583.2" y="329.8" font-size="11.75" font-style="italic" text-anchor="start" fill="#000" >Aox4-/-</text>
<text x="550.3" y="350.3" font-size="15.5" font-weight="bold" text-anchor="start" fill="#000" >Liver</text>
<text x="476.3" y="558.0" font-size="9.2" text-anchor="start" fill="#000" textLength="17.8" lengthAdjust="spacingAndGlyphs">MW</text>
<text x="484.6" y="567.8" font-size="9.6" text-anchor="middle" fill="#000" >(kDa)</text>
<path d="M501.6,561.5 V557.4 H566.2 V561.5" stroke="#222" stroke-width="1" fill="none" />
<path d="M568.6,561.5 V557.4 H632.2 V561.5" stroke="#222" stroke-width="1" fill="none" />
<g filter="url(#gblur)">
<rect x="502.3" y="567.8" width="130.49999999999994" height="80.5" fill="#c9c9c9"/>
<rect x="505.6" y="571.8" width="15.299999999999955" height="74.5" fill="#bebebe"/>
<rect x="527.6" y="571.8" width="15.299999999999955" height="74.5" fill="#bebebe"/>
<rect x="549.6" y="571.8" width="15.299999999999955" height="74.5" fill="#bebebe"/>
<rect x="571.2" y="571.8" width="16.0" height="74.5" fill="#bebebe"/>
<rect x="593.1" y="571.8" width="14.5" height="74.5" fill="#bebebe"/>
<rect x="614.4" y="571.8" width="14.200000000000045" height="74.5" fill="#bebebe"/>
<rect x="505.6" y="588" width="15.299999999999955" height="2.4" fill="#555" opacity="0.5"/>
<rect x="527.6" y="588" width="15.299999999999955" height="2.4" fill="#555" opacity="0.4"/>
<rect x="549.6" y="588" width="15.299999999999955" height="2.4" fill="#555" opacity="0.3"/>
<rect x="571.2" y="588" width="16.0" height="2.4" fill="#555" opacity="0.3"/>
<rect x="593.1" y="588" width="14.5" height="2.4" fill="#555" opacity="0.2"/>
<rect x="614.4" y="588" width="14.200000000000045" height="2.4" fill="#555" opacity="0.15"/>
<rect x="505.6" y="633" width="15.299999999999955" height="11" fill="#777" opacity="0.25"/>
<rect x="527.6" y="633" width="15.299999999999955" height="11" fill="#777" opacity="0.2"/>
<rect x="549.6" y="633" width="15.299999999999955" height="11" fill="#777" opacity="0.22"/>
<rect x="571.2" y="633" width="16.0" height="11" fill="#777" opacity="0.2"/>
<rect x="593.1" y="633" width="14.5" height="11" fill="#777" opacity="0.15"/>
<rect x="614.4" y="633" width="14.200000000000045" height="11" fill="#777" opacity="0.15"/>
<rect x="593.1" y="633" width="14.5" height="2.6" fill="#666" opacity="0.6"/>
<path d="M614.4,634 L628.6,629 L628.6,633 L614.4,638 Z" fill="#888" opacity="0.35"/>
<rect x="505.6" y="577.4" width="15.299999999999955" height="1.8" rx="1" fill="#141414"/>
<rect x="527.6" y="577.6999999999999" width="15.299999999999955" height="2.2" rx="1" fill="#141414"/>
<rect x="549.6" y="578.1999999999999" width="15.299999999999955" height="2.2" rx="1" fill="#141414"/>
<rect x="571.2" y="577.7" width="16.0" height="2.6" rx="1" fill="#141414"/>
<rect x="593.1" y="576.6999999999999" width="14.5" height="2.2" rx="1" fill="#141414"/>
<path d="M614.4,576.8 L628.6,574.4 L628.6,576.4 L614.4,578.6 Z" fill="#1a1a1a"/>
</g>
<path d="M523.5,584.5 L526,588" stroke="#222" stroke-width="1.2"/>
<path d="M562.3,627 V648" stroke="#333" stroke-width="0.8"/>
<ellipse cx="562.3" cy="627" rx="0.9" ry="1.6" fill="#222"/>
<g filter="url(#gblur)">
<rect x="502.3" y="652.8" width="130.49999999999994" height="19.800000000000068" fill="#c8c8c8"/>
<rect x="505.2" y="658.5" width="16.900000000000034" height="5" fill="#777" opacity="0.55"/>
<rect x="505.2" y="663.4" width="16.900000000000034" height="4.2" rx="1.5" fill="#111"/>
<rect x="527" y="658.5" width="17" height="5" fill="#777" opacity="0.55"/>
<rect x="527" y="663.4" width="17" height="4.2" rx="1.5" fill="#151515"/>
<rect x="549.5" y="658.5" width="17.0" height="5" fill="#777" opacity="0.55"/>
<rect x="549.5" y="663.4" width="17.0" height="4.2" rx="1.5" fill="#111"/>
<rect x="571.6" y="658.5" width="17.399999999999977" height="5" fill="#777" opacity="0.55"/>
<rect x="571.6" y="663.4" width="17.399999999999977" height="4.2" rx="1.5" fill="#1a1a1a"/>
<rect x="594" y="658.5" width="16.399999999999977" height="5" fill="#777" opacity="0.55"/>
<rect x="594" y="663.4" width="16.399999999999977" height="4.2" rx="1.5" fill="#262626"/>
<path d="M616.1,659 L629.2,655 L629.2,659 L616.1,663 Z" fill="#777" opacity="0.55"/>
<path d="M616.1,663 L629.2,659 L629.2,662.5 L616.1,666.5 Z" fill="#2a2a2a"/>
</g>
<text x="498.6" y="577.8" font-size="9.6" text-anchor="end" fill="#000" >175 -</text>
<text x="498.6" y="614.0" font-size="9.6" text-anchor="end" fill="#000" >80 -</text>
<text x="498.6" y="637.6" font-size="9.6" text-anchor="end" fill="#000" >58 -</text>
<text x="638.4" y="579.3" font-size="11.7" font-weight="bold" text-anchor="start" fill="#000" >AOX1</text>
<text x="637.0" y="665.1" font-size="11.7" font-weight="bold" text-anchor="start" fill="#000" >Actin</text>
<path d="M501.6,677.2 V681.8 H566.2 V677.2" stroke="#222" stroke-width="1" fill="none" />
<path d="M568.6,677.2 V681.8 H632.2 V677.2" stroke="#222" stroke-width="1" fill="none" />
<text x="534.9" y="692.9" font-size="11.4" font-style="italic" text-anchor="middle" fill="#000" >WT</text>
<text x="581.4" y="692.9" font-size="11.75" font-style="italic" text-anchor="start" fill="#000" >Aox4-/-</text>
<text x="541.4" y="712.6" font-size="14.9" font-weight="bold" font-style="italic" text-anchor="start" fill="#000" >WADT</text>
<text x="176.3" y="701.0" font-size="15.3" font-weight="bold" font-style="italic" text-anchor="start" fill="#000" >WADT</text>
<text x="15.7" y="403.8" font-size="29.5" text-anchor="start" fill="#000" >d</text>
<text x="158.6" y="401.9" font-size="14.9" font-weight="bold" text-anchor="start" fill="#000" >AOX1 mRNA</text>
<text x="336.4" y="440.5" font-size="10.8" text-anchor="end" fill="#000" >female mice</text>
<text x="336.4" y="470.6" font-size="10.8" text-anchor="end" fill="#000" >male mice</text>
<path d="M348.7,424.6 H339.5 V448.9 H348.7" stroke="#333" stroke-width="1" fill="none" />
<path d="M348.7,455.9 H339.5 V480.8 H348.7" stroke="#333" stroke-width="1" fill="none" />
<circle cx="352.8" cy="429.7" r="4.2" stroke="#000" stroke-width="1.1" fill="#000"/>
<circle cx="352.8" cy="443.6" r="4.0" stroke="#000" stroke-width="1.1" fill="#fff"/>
<rect x="348.2" y="456.9" width="9.2" height="9.2" stroke="#000" stroke-width="1" fill="#000"/>
<rect x="348.3" y="469.4" width="9.0" height="9.0" stroke="#555" stroke-width="1" fill="#fff"/>
<text x="362.0" y="433.0" font-size="10.8" font-style="italic" text-anchor="start" fill="#000" >WT</text>
<text x="362.0" y="447.7" font-size="10.8" font-style="italic" text-anchor="start" fill="#000" >Aox4-/-</text>
<text x="362.0" y="464.5" font-size="10.8" font-style="italic" text-anchor="start" fill="#000" >WT</text>
<text x="362.0" y="478.0" font-size="10.8" font-style="italic" text-anchor="start" fill="#000" >Aox4-/-</text>
<line x1="100.5" y1="470.7" x2="100.5" y2="627.9" stroke="#222" stroke-width="1"/>
<line x1="97.0" y1="627.9" x2="327.2" y2="627.9" stroke="#222" stroke-width="1"/>
<line x1="97.0" y1="627.9" x2="100.5" y2="627.9" stroke="#222" stroke-width="1"/>
<text x="96.2" y="633.4" font-size="14" text-anchor="end" fill="#000" >0</text>
<line x1="97.0" y1="601.6999999999999" x2="100.5" y2="601.6999999999999" stroke="#222" stroke-width="1"/>
<text x="96.2" y="607.1999999999999" font-size="14" text-anchor="end" fill="#000" >1</text>
<line x1="97.0" y1="575.5" x2="100.5" y2="575.5" stroke="#222" stroke-width="1"/>
<text x="96.2" y="581.0" font-size="14" text-anchor="end" fill="#000" >2</text>
<line x1="97.0" y1="549.3" x2="100.5" y2="549.3" stroke="#222" stroke-width="1"/>
<text x="96.2" y="554.8" font-size="14" text-anchor="end" fill="#000" >3</text>
<line x1="97.0" y1="523.1" x2="100.5" y2="523.1" stroke="#222" stroke-width="1"/>
<text x="96.2" y="528.6" font-size="14" text-anchor="end" fill="#000" >4</text>
<line x1="97.0" y1="496.9" x2="100.5" y2="496.9" stroke="#222" stroke-width="1"/>
<text x="96.2" y="502.4" font-size="14" text-anchor="end" fill="#000" >5</text>
<line x1="97.0" y1="470.7" x2="100.5" y2="470.7" stroke="#222" stroke-width="1"/>
<text x="96.2" y="476.2" font-size="14" text-anchor="end" fill="#000" >6</text>
<text x="123.8" y="650.1" font-size="13.6" text-anchor="middle" fill="#000" >4</text>
<text x="171.4" y="650.1" font-size="13.6" text-anchor="middle" fill="#000" >10</text>
<text x="217.2" y="650.1" font-size="13.6" text-anchor="middle" fill="#000" >16</text>
<text x="262.2" y="650.1" font-size="13.6" text-anchor="middle" fill="#000" >22</text>
<text x="306.7" y="650.1" font-size="13.6" text-anchor="middle" fill="#000" >4</text>
<rect x="122.8" y="662.6" width="184.6" height="10" fill="#fff" stroke="#000" stroke-width="1"/>
<rect x="190.4" y="662.6" width="90" height="10" fill="#000"/>
<text transform="translate(72.6,548.7) rotate(-90)" x="0" y="0" font-size="14.1" text-anchor="middle">Relative mRNA abundance</text>
<line x1="123.0" y1="544.6" x2="123.0" y2="557.9" stroke="#000" stroke-width="1"/>
<line x1="119.6" y1="544.6" x2="126.4" y2="544.6" stroke="#000" stroke-width="1"/>
<line x1="168.6" y1="515.4" x2="168.6" y2="532.3" stroke="#000" stroke-width="1"/>
<line x1="165.2" y1="515.4" x2="172.0" y2="515.4" stroke="#000" stroke-width="1"/>
<line x1="214.1" y1="508.2" x2="214.1" y2="527.8" stroke="#000" stroke-width="1"/>
<line x1="210.7" y1="508.2" x2="217.5" y2="508.2" stroke="#000" stroke-width="1"/>
<line x1="259.5" y1="576.2" x2="259.5" y2="593.7" stroke="#000" stroke-width="1"/>
<line x1="256.1" y1="576.2" x2="262.9" y2="576.2" stroke="#000" stroke-width="1"/>
<line x1="305.2" y1="544.7" x2="305.2" y2="557.6" stroke="#000" stroke-width="1"/>
<line x1="301.8" y1="544.7" x2="308.59999999999997" y2="544.7" stroke="#000" stroke-width="1"/>
<line x1="168.6" y1="490.0" x2="168.6" y2="502.7" stroke="#000" stroke-width="1"/>
<line x1="165.2" y1="490.0" x2="172.0" y2="490.0" stroke="#000" stroke-width="1"/>
<line x1="259.5" y1="567.5" x2="259.5" y2="585.5" stroke="#000" stroke-width="1"/>
<line x1="256.1" y1="567.5" x2="262.9" y2="567.5" stroke="#000" stroke-width="1"/>
<line x1="214.1" y1="602.6" x2="214.1" y2="606.7" stroke="#000" stroke-width="1"/>
<line x1="210.7" y1="602.6" x2="217.5" y2="602.6" stroke="#000" stroke-width="1"/>
<path d="M123.0,616.3 L168.6,602.3 L214.1,606.7 L259.5,618.5 L305.2,616.5" stroke="#000" stroke-width="1" fill="none" />
<path d="M123.0,604.2 L168.6,608.9 L214.1,610.5 L259.5,620.0 L305.2,604.2" stroke="#000" stroke-width="1" fill="none" />
<path d="M123.0,557.9 L168.6,532.3 L214.1,527.8 L259.5,593.7 L305.2,557.6" stroke="#000" stroke-width="1" fill="none" />
<path d="M123.0,503.7 L168.6,502.7 L214.1,538.3 L259.5,585.5 L305.2,503.8" stroke="#000" stroke-width="1" fill="none" />
<circle cx="123.0" cy="616.3" r="4.2" stroke="#000" stroke-width="1.1" fill="#000"/>
<circle cx="168.6" cy="602.3" r="4.2" stroke="#000" stroke-width="1.1" fill="#000"/>
<circle cx="214.1" cy="606.7" r="4.2" stroke="#000" stroke-width="1.1" fill="#000"/>
<circle cx="259.5" cy="618.5" r="4.2" stroke="#000" stroke-width="1.1" fill="#000"/>
<circle cx="305.2" cy="616.5" r="4.2" stroke="#000" stroke-width="1.1" fill="#000"/>
<circle cx="123.0" cy="604.2" r="4.2" stroke="#000" stroke-width="1.1" fill="#fff"/>
<circle cx="168.6" cy="608.9" r="4.2" stroke="#000" stroke-width="1.1" fill="#fff"/>
<circle cx="214.1" cy="610.5" r="4.2" stroke="#000" stroke-width="1.1" fill="#fff"/>
<circle cx="259.5" cy="620.0" r="4.2" stroke="#000" stroke-width="1.1" fill="#fff"/>
<circle cx="305.2" cy="604.2" r="4.2" stroke="#000" stroke-width="1.1" fill="#fff"/>
<rect x="118.2" y="553.1" width="9.6" height="9.6" stroke="#000" stroke-width="1" fill="#000"/>
<rect x="163.79999999999998" y="527.5" width="9.6" height="9.6" stroke="#000" stroke-width="1" fill="#000"/>
<rect x="209.29999999999998" y="523.0" width="9.6" height="9.6" stroke="#000" stroke-width="1" fill="#000"/>
<rect x="254.7" y="588.9000000000001" width="9.6" height="9.6" stroke="#000" stroke-width="1" fill="#000"/>
<rect x="300.4" y="552.8000000000001" width="9.6" height="9.6" stroke="#000" stroke-width="1" fill="#000"/>
<rect x="118.2" y="498.9" width="9.6" height="9.6" stroke="#000" stroke-width="1" fill="#fff"/>
<rect x="163.79999999999998" y="497.9" width="9.6" height="9.6" stroke="#000" stroke-width="1" fill="#fff"/>
<rect x="209.29999999999998" y="533.5" width="9.6" height="9.6" stroke="#000" stroke-width="1" fill="#fff"/>
<rect x="254.7" y="580.7" width="9.6" height="9.6" stroke="#000" stroke-width="1" fill="#fff"/>
<rect x="300.4" y="499.0" width="9.6" height="9.6" stroke="#000" stroke-width="1" fill="#fff"/>
<path d="M123.60,484.85 L123.60,492.35 M126.85,486.73 L120.35,490.48 M126.85,490.48 L120.35,486.73 " stroke="#222" stroke-width="1.1" fill="none" />
<path d="M305.20,484.45 L305.20,491.95 M308.45,486.32 L301.95,490.07 M308.45,490.07 L301.95,486.32 " stroke="#222" stroke-width="1.1" fill="none" />
</svg>
</body></html>
